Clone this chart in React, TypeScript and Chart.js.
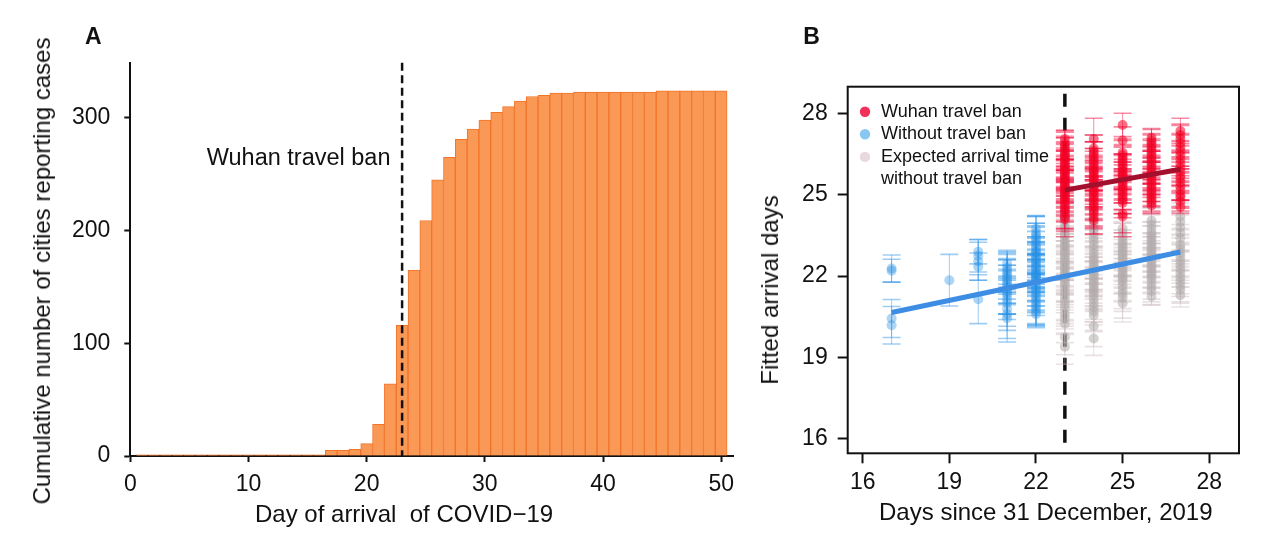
import React, { useEffect, useRef } from "react";
import { Chart, registerables } from "chart.js";

Chart.register(...registerables);

const FONT = "'Liberation Sans', Arial, Helvetica, sans-serif";

// ---------- Panel A data ----------
const arrivalDays = [
  1, 2, 3, 4, 5, 6, 7, 8, 9, 10, 11, 12, 13, 14, 15, 16, 17, 18, 19, 20, 21, 22, 23, 24, 25,
  26, 27, 28, 29, 30, 31, 32, 33, 34, 35, 36, 37, 38, 39, 40, 41, 42, 43, 44, 45, 46, 47, 48, 49, 50,
];
const cumulativeCities = [
  1, 1, 1, 1, 1, 1, 1, 1, 1, 1, 1, 1, 1, 1, 1, 1, 5, 5, 6, 11, 28, 64, 116, 165, 209,
  245, 265, 281, 290, 298, 305, 310, 315, 319, 320, 322, 322, 323, 323, 323, 323, 323, 323, 323, 324, 324, 324, 324, 324, 324,
];
const dayTicks = [0, 10, 20, 30, 40, 50];
const countTicks = [0, 100, 200, 300];
const travelBanDay = 23;
const annotationLabel = "Wuhan travel ban";

// ---------- Panel B data: [day, fitted arrival day, error half-width] ----------
const dayTicksB = [16, 19, 22, 25, 28];
const fittedTicks = [16, 19, 22, 25, 28];

const withoutBan: number[][] = [
  [17, 22.28, 0.5], [17, 22.2, 0.42], [17, 20.44, 0.7], [17, 20.19, 0.69],
  [19, 21.85, 0.95],
  [20, 22.9, 0.45], [20, 22.75, 0.6], [20, 22.55, 0.7], [20, 22.35, 0.5], [20, 21.15, 0.9],
  [21, 22.45, 0.5], [21, 22.3, 0.6], [21, 22.2, 0.65], [21, 22.1, 0.7], [21, 22.0, 0.6], [21, 21.9, 0.75],
  [21, 21.8, 0.8], [21, 21.7, 0.7], [21, 21.6, 0.65], [21, 21.5, 0.9], [21, 21.4, 0.8], [21, 21.3, 0.7],
  [21, 21.15, 0.75], [21, 21.0, 0.85], [21, 20.8, 0.8], [21, 20.6, 0.9], [21, 20.45, 0.88],
  [22, 23.75, 0.48], [22, 23.6, 0.6], [22, 23.5, 0.7], [22, 23.4, 0.55], [22, 23.3, 0.65], [22, 23.2, 0.45],
  [22, 23.1, 0.75], [22, 23.0, 0.8], [22, 22.9, 0.5], [22, 22.85, 0.6], [22, 22.75, 0.7], [22, 22.7, 0.55],
  [22, 22.6, 0.65], [22, 22.5, 0.45], [22, 22.45, 0.75], [22, 22.35, 0.8], [22, 22.3, 0.5], [22, 22.2, 0.6],
  [22, 22.1, 0.7], [22, 22.05, 0.55], [22, 21.95, 0.65], [22, 21.9, 0.45], [22, 21.8, 0.75], [22, 21.7, 0.8],
  [22, 21.6, 0.5], [22, 21.5, 0.6], [22, 21.4, 0.7], [22, 21.3, 0.55], [22, 21.2, 0.65], [22, 21.1, 0.45],
  [22, 21.0, 0.75], [22, 20.9, 0.7], [22, 20.8, 0.6], [22, 20.7, 0.55], [22, 20.6, 0.5], [22, 22.0, 0.6],
];

const wuhanBan: number[][] = [
  [23, 27.05, 0.33], [23, 26.9, 0.45], [23, 26.8, 0.5], [23, 26.7, 0.4], [23, 26.6, 0.55], [23, 26.5, 0.6],
  [23, 26.45, 0.45], [23, 26.35, 0.5], [23, 26.3, 0.65], [23, 26.2, 0.4], [23, 26.1, 0.55], [23, 26.05, 0.6],
  [23, 25.95, 0.45], [23, 25.9, 0.7], [23, 25.8, 0.5], [23, 25.75, 0.55], [23, 25.65, 0.6], [23, 25.6, 0.45],
  [23, 25.5, 0.65], [23, 25.45, 0.5], [23, 25.35, 0.55], [23, 25.3, 0.6], [23, 25.2, 0.7], [23, 25.15, 0.45],
  [23, 25.05, 0.5], [23, 25.0, 0.6], [23, 24.9, 0.55], [23, 24.85, 0.65], [23, 24.75, 0.5], [23, 24.65, 0.6],
  [23, 24.55, 0.55], [23, 24.45, 0.7], [23, 24.35, 0.6], [23, 24.2, 0.55], [23, 24.1, 0.65],
  [24, 27.05, 0.77], [24, 26.7, 0.5], [24, 26.6, 0.6], [24, 26.5, 0.45], [24, 26.4, 0.55], [24, 26.3, 0.65],
  [24, 26.2, 0.5], [24, 26.1, 0.6], [24, 26.0, 0.45], [24, 25.9, 0.7], [24, 25.85, 0.55], [24, 25.75, 0.6],
  [24, 25.65, 0.5], [24, 25.6, 0.65], [24, 25.5, 0.45], [24, 25.4, 0.6], [24, 25.35, 0.55], [24, 25.25, 0.7],
  [24, 25.15, 0.5], [24, 25.1, 0.6], [24, 25.0, 0.55], [24, 24.9, 0.65], [24, 24.8, 0.5], [24, 24.7, 0.6],
  [24, 24.6, 0.55], [24, 24.5, 0.65], [24, 24.4, 0.6], [24, 24.3, 0.55], [24, 24.15, 0.6], [24, 24.05, 0.5],
  [25, 27.57, 0.43], [25, 27.0, 0.5], [25, 26.55, 0.45], [25, 26.45, 0.6], [25, 26.35, 0.5], [25, 26.25, 0.55],
  [25, 26.15, 0.6], [25, 26.05, 0.45], [25, 25.95, 0.5], [25, 25.85, 0.65], [25, 25.75, 0.55], [25, 25.7, 0.5],
  [25, 25.6, 0.6], [25, 25.5, 0.45], [25, 25.4, 0.55], [25, 25.3, 0.6], [25, 25.2, 0.5], [25, 25.1, 0.65],
  [25, 25.0, 0.55], [25, 24.9, 0.6], [25, 24.8, 0.5], [25, 24.7, 0.55], [25, 24.3, 0.85], [25, 24.2, 0.6],
  [26, 27.1, 0.34], [26, 27.0, 0.4], [26, 26.9, 0.3], [26, 26.8, 0.45], [26, 26.7, 0.35], [26, 26.6, 0.4],
  [26, 26.5, 0.3], [26, 26.4, 0.45], [26, 26.3, 0.35], [26, 26.2, 0.4], [26, 26.1, 0.3], [26, 26.0, 0.45],
  [26, 25.9, 0.35], [26, 25.8, 0.4], [26, 25.7, 0.3], [26, 25.6, 0.45], [26, 25.5, 0.35], [26, 25.4, 0.4],
  [26, 25.3, 0.3], [26, 25.2, 0.45], [26, 25.1, 0.35], [26, 25.0, 0.4], [26, 24.9, 0.35], [26, 24.8, 0.4],
  [26, 24.7, 0.35], [26, 24.6, 0.3],
  [27, 27.35, 0.47], [27, 27.2, 0.4], [27, 27.05, 0.5], [27, 26.9, 0.35], [27, 26.75, 0.45], [27, 26.6, 0.4],
  [27, 26.45, 0.5], [27, 26.3, 0.35], [27, 26.15, 0.45], [27, 26.0, 0.4], [27, 25.85, 0.5], [27, 25.7, 0.35],
  [27, 25.6, 0.45], [27, 25.45, 0.4], [27, 25.3, 0.5], [27, 25.15, 0.35], [27, 25.0, 0.45], [27, 24.9, 0.4],
  [27, 24.75, 0.35], [27, 24.55, 0.24],
];

const expectedNoBan: number[][] = [
  [23, 24.4, 0.6], [23, 24.25, 0.7], [23, 24.1, 0.55], [23, 23.95, 0.65], [23, 23.8, 0.75], [23, 23.7, 0.6],
  [23, 23.55, 0.7], [23, 23.45, 0.55], [23, 23.3, 0.8], [23, 23.2, 0.65], [23, 23.1, 0.6], [23, 23.0, 0.7],
  [23, 22.9, 0.55], [23, 22.8, 0.75], [23, 22.7, 0.6], [23, 22.6, 0.7], [23, 22.5, 0.65], [23, 22.4, 0.55],
  [23, 22.3, 0.8], [23, 22.2, 0.6], [23, 22.1, 0.7], [23, 22.0, 0.65], [23, 21.9, 0.55], [23, 21.8, 0.75],
  [23, 21.7, 0.6], [23, 21.55, 0.7], [23, 21.4, 0.65], [23, 21.25, 0.6], [23, 21.1, 0.75], [23, 20.95, 0.7],
  [23, 20.8, 0.65], [23, 20.6, 0.7], [23, 20.45, 0.6], [23, 20.25, 0.7], [23, 19.75, 0.65], [23, 19.4, 0.65],
  [24, 23.9, 0.6], [24, 23.75, 0.7], [24, 23.6, 0.55], [24, 23.45, 0.65], [24, 23.3, 0.75], [24, 23.15, 0.6],
  [24, 23.0, 0.7], [24, 22.85, 0.55], [24, 22.7, 0.8], [24, 22.6, 0.65], [24, 22.5, 0.6], [24, 22.4, 0.7],
  [24, 22.3, 0.55], [24, 22.2, 0.75], [24, 22.1, 0.6], [24, 22.0, 0.7], [24, 21.9, 0.65], [24, 21.8, 0.55],
  [24, 21.7, 0.8], [24, 21.6, 0.6], [24, 21.5, 0.7], [24, 21.4, 0.65], [24, 21.3, 0.6], [24, 21.15, 0.75],
  [24, 21.0, 0.7], [24, 20.85, 0.65], [24, 20.7, 0.7], [24, 20.55, 0.6], [24, 20.15, 0.75], [24, 19.7, 0.62],
  [25, 23.75, 0.6], [25, 23.6, 0.7], [25, 23.45, 0.55], [25, 23.3, 0.65], [25, 23.2, 0.75], [25, 23.1, 0.6],
  [25, 23.0, 0.7], [25, 22.9, 0.55], [25, 22.8, 0.8], [25, 22.7, 0.65], [25, 22.6, 0.6], [25, 22.5, 0.7],
  [25, 22.4, 0.55], [25, 22.3, 0.75], [25, 22.2, 0.6], [25, 22.1, 0.7], [25, 22.0, 0.65], [25, 21.9, 0.55],
  [25, 21.8, 0.7], [25, 21.65, 0.6], [25, 21.5, 0.7], [25, 21.35, 0.65], [25, 21.2, 0.75], [25, 21.0, 0.69],
  [26, 24.05, 0.5], [26, 23.9, 0.6], [26, 23.75, 0.55], [26, 23.6, 0.65], [26, 23.5, 0.5], [26, 23.4, 0.6],
  [26, 23.3, 0.55], [26, 23.2, 0.65], [26, 23.1, 0.5], [26, 23.0, 0.6], [26, 22.9, 0.55], [26, 22.8, 0.65],
  [26, 22.7, 0.5], [26, 22.6, 0.6], [26, 22.5, 0.55], [26, 22.4, 0.65], [26, 22.3, 0.5], [26, 22.2, 0.6],
  [26, 22.1, 0.55], [26, 22.0, 0.65], [26, 21.9, 0.5], [26, 21.75, 0.6], [26, 21.6, 0.55], [26, 21.45, 0.5],
  [26, 21.25, 0.32],
  [27, 24.2, 0.5], [27, 24.0, 0.6], [27, 23.8, 0.55], [27, 23.6, 0.65], [27, 23.4, 0.5], [27, 23.15, 0.6],
  [27, 23.0, 0.55], [27, 22.85, 0.65], [27, 22.7, 0.5], [27, 22.55, 0.6], [27, 22.4, 0.55], [27, 22.25, 0.65],
  [27, 22.1, 0.5], [27, 21.95, 0.6], [27, 21.8, 0.55], [27, 21.65, 0.6], [27, 21.5, 0.5], [27, 21.3, 0.44],
];

const withoutBanFit = [[17, 20.66], [27, 22.89]];
const wuhanBanFit = [[23, 25.17], [27, 25.94]];

const legendLabels = ["Wuhan travel ban", "Without travel ban", "Expected arrival time", "without travel ban"];
const legendColors = ["#F2305C", "#88C8F0", "#E9D8DC", ""];

const toPts = (rows: number[][]) => rows.map((r) => ({ x: r[0], y: r[1], e: r[2] }));

const annotationA = {
  id: "annotationA",
  afterDatasetsDraw(chart: any) {
    const { ctx, chartArea, scales } = chart;
    const px = scales.x.getPixelForValue(travelBanDay);
    ctx.save();
    ctx.strokeStyle = "#111";
    ctx.lineWidth = 2.5;
    ctx.setLineDash([8, 4.5]);
    ctx.beginPath();
    ctx.moveTo(px, chartArea.top);
    ctx.lineTo(px, chartArea.bottom);
    ctx.stroke();
    ctx.setLineDash([]);
    ctx.fillStyle = "#111";
    ctx.font = `23.5px ${FONT}`;
    ctx.textAlign = "right";
    ctx.textBaseline = "alphabetic";
    ctx.fillText(annotationLabel, px - 11.6, scales.y.getPixelForValue(258.4));
    ctx.restore();
  },
};

const panelB = {
  id: "panelB",
  beforeDatasetsDraw(chart: any) {
    const { ctx, chartArea, scales } = chart;
    const px = scales.x.getPixelForValue(travelBanDay);
    ctx.save();
    ctx.strokeStyle = "#111";
    ctx.lineWidth = 3.5;
    ctx.setLineDash([13, 11]);
    ctx.beginPath();
    ctx.moveTo(px, chartArea.top + 7);
    ctx.lineTo(px, chartArea.bottom);
    ctx.stroke();
    ctx.restore();
  },
  beforeDatasetDraw(chart: any, args: any) {
    const ds = chart.data.datasets[args.index];
    if (!ds.errorColor) return;
    const { ctx, scales } = chart;
    ctx.save();
    ctx.strokeStyle = ds.errorColor;
    for (const p of ds.data) {
      const px = scales.x.getPixelForValue(p.x);
      const top = scales.y.getPixelForValue(p.y + p.e);
      const bot = scales.y.getPixelForValue(p.y - p.e);
      ctx.lineWidth = 1;
      ctx.beginPath();
      ctx.moveTo(px, top);
      ctx.lineTo(px, bot);
      ctx.stroke();
      ctx.lineWidth = 1.6;
      ctx.beginPath();
      ctx.moveTo(px - 9, top);
      ctx.lineTo(px + 9, top);
      ctx.moveTo(px - 9, bot);
      ctx.lineTo(px + 9, bot);
      ctx.stroke();
    }
    ctx.restore();
  },
  afterDraw(chart: any) {
    const { ctx, chartArea } = chart;
    ctx.save();
    ctx.strokeStyle = "#111";
    ctx.lineWidth = 2;
    ctx.strokeRect(chartArea.left, chartArea.top, chartArea.right - chartArea.left, chartArea.bottom - chartArea.top);
    ctx.font = `18px ${FONT}`;
    ctx.textBaseline = "middle";
    ctx.textAlign = "left";
    legendLabels.forEach((label, i) => {
      const y = chartArea.top + 25 + i * 22.6;
      if (legendColors[i]) {
        ctx.fillStyle = legendColors[i];
        ctx.beginPath();
        ctx.arc(chartArea.left + 17.3, y, 5.2, 0, Math.PI * 2);
        ctx.fill();
      }
      ctx.fillStyle = "#111";
      ctx.fillText(label, chartArea.left + 33.3, y);
    });
    ctx.restore();
  },
};

const noEdgePadding = (s: any) => {
  s.paddingLeft = 0;
  s.paddingRight = 0;
  s.paddingTop = 0;
  s.paddingBottom = 0;
};

export default function App() {
  const refA = useRef<HTMLCanvasElement>(null);
  const refB = useRef<HTMLCanvasElement>(null);

  useEffect(() => {
    const tickFont = { family: FONT, size: 23 };
    const chartA = new Chart(refA.current as HTMLCanvasElement, {
      type: "bar",
      data: {
        datasets: [
          {
            data: arrivalDays.map((d, i) => ({ x: d, y: cumulativeCities[i] })),
            backgroundColor: "#FA9856",
            borderColor: "#F27428",
            borderWidth: 1,
            barPercentage: 1,
            categoryPercentage: 1,
          } as any,
        ],
      },
      options: {
        animation: false,
        responsive: false,
        maintainAspectRatio: false,
        layout: { padding: { top: 62.7, right: 7, left: 0, bottom: 0 } },
        plugins: { legend: { display: false }, tooltip: { enabled: false } },
        scales: {
          x: {
            type: "linear",
            min: 0,
            max: 51,
            offset: false,
            afterBuildTicks: (s: any) => {
              s.ticks = dayTicks.map((v) => ({ value: v }));
            },
            afterFit: (s: any) => {
              s.height = 84;
              noEdgePadding(s);
            },
            grid: { display: true, offset: false, drawOnChartArea: false, drawTicks: true, tickLength: 6, tickColor: "#111", tickWidth: 2 },
            border: { display: true, color: "#111", width: 2 },
            ticks: { color: "#111", font: tickFont, padding: 9, maxRotation: 0, autoSkip: false },
          },
          y: {
            type: "linear",
            min: 0,
            max: 349,
            afterBuildTicks: (s: any) => {
              s.ticks = countTicks.map((v) => ({ value: v }));
            },
            afterFit: (s: any) => {
              s.width = 130.3;
              noEdgePadding(s);
            },
            grid: { display: true, drawOnChartArea: false, drawTicks: true, tickLength: 6, tickColor: "#111", tickWidth: 2 },
            border: { display: true, color: "#111", width: 2 },
            ticks: { color: "#111", font: tickFont, padding: 14, autoSkip: false },
          },
        },
      } as any,
      plugins: [annotationA],
    });

    const chartB = new Chart(refB.current as HTMLCanvasElement, {
      type: "scatter",
      data: {
        datasets: [
          {
            type: "line",
            data: wuhanBanFit.map((p) => ({ x: p[0], y: p[1] })),
            borderColor: "#A3102E",
            borderWidth: 5,
            pointRadius: 0,
            showLine: true,
            fill: false,
          },
          {
            type: "line",
            data: withoutBanFit.map((p) => ({ x: p[0], y: p[1] })),
            borderColor: "#3C8DE3",
            borderWidth: 5,
            pointRadius: 0,
            showLine: true,
            fill: false,
          },
          {
            data: toPts(wuhanBan),
            pointRadius: 5,
            pointBorderWidth: 0,
            backgroundColor: "rgba(242, 0, 36, 0.55)",
            errorColor: "rgba(240, 0, 55, 0.45)",
          },
          {
            data: toPts(withoutBan),
            pointRadius: 5,
            pointBorderWidth: 0,
            backgroundColor: "rgba(40, 145, 230, 0.38)",
            errorColor: "rgba(40, 145, 230, 0.45)",
          },
          {
            data: toPts(expectedNoBan),
            pointRadius: 5,
            pointBorderWidth: 0,
            backgroundColor: "rgba(178, 172, 172, 0.55)",
            errorColor: "rgba(205, 188, 192, 0.45)",
          },
        ] as any,
      },
      options: {
        animation: false,
        responsive: false,
        maintainAspectRatio: false,
        layout: { padding: { top: 86.7, right: 25, left: 0, bottom: 0 } },
        plugins: { legend: { display: false }, tooltip: { enabled: false } },
        scales: {
          x: {
            type: "linear",
            min: 15.48,
            max: 29.03,
            afterBuildTicks: (s: any) => {
              s.ticks = dayTicksB.map((v) => ({ value: v }));
            },
            afterFit: (s: any) => {
              s.height = 86.7;
              noEdgePadding(s);
            },
            grid: { display: true, drawOnChartArea: false, drawTicks: true, tickLength: 10, tickColor: "#111", tickWidth: 2 },
            border: { display: false },
            ticks: { color: "#111", font: tickFont, padding: 6, maxRotation: 0, autoSkip: false },
          },
          y: {
            type: "linear",
            min: 15.47,
            max: 28.98,
            afterBuildTicks: (s: any) => {
              s.ticks = fittedTicks.map((v) => ({ value: v }));
            },
            afterFit: (s: any) => {
              s.width = 107.7;
              noEdgePadding(s);
            },
            grid: { display: true, drawOnChartArea: false, drawTicks: true, tickLength: 10, tickColor: "#111", tickWidth: 2 },
            border: { display: false },
            ticks: { color: "#111", font: tickFont, padding: 10, autoSkip: false },
          },
        },
      } as any,
      plugins: [panelB],
    });

    return () => {
      chartA.destroy();
      chartB.destroy();
    };
  }, []);

  const text: React.CSSProperties = {
    position: "absolute",
    fontFamily: FONT,
    color: "#111",
    fontSize: 24,
    lineHeight: "24px",
    whiteSpace: "pre",
  };

  return (
    <div style={{ position: "absolute", left: 0, top: 0, width: 1264, height: 540, background: "#fff", overflow: "hidden" }}>
      <canvas ref={refA} width={740} height={540} style={{ position: "absolute", left: 0, top: 0, width: 740, height: 540 }} />
      <canvas ref={refB} width={524} height={540} style={{ position: "absolute", left: 740, top: 0, width: 524, height: 540 }} />
      <div style={{ ...text, left: 85, top: 25, fontSize: 23, lineHeight: "23px", fontWeight: "bold" }}>A</div>
      <div style={{ ...text, left: 803.3, top: 25, fontSize: 23, lineHeight: "23px", fontWeight: "bold" }}>B</div>
      <div style={{ ...text, left: 41.5, top: 270.5, transform: "translate(-50%, -50%) rotate(-90deg)" }}>
        Cumulative number of cities reporting cases
      </div>
      <div style={{ ...text, left: 255, top: 502 }}>{"Day of arrival  of COVID\u221219"}</div>
      <div style={{ ...text, left: 770, top: 290, transform: "translate(-50%, -50%) rotate(-90deg)" }}>Fitted arrival days</div>
      <div style={{ ...text, left: 1045.8, top: 500, transform: "translateX(-50%)" }}>Days since 31 December, 2019</div>
    </div>
  );
}
